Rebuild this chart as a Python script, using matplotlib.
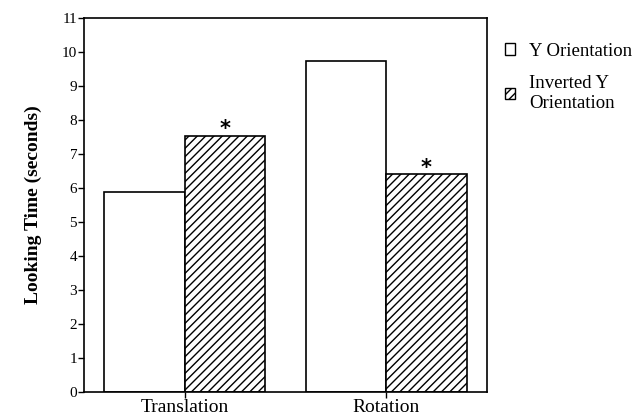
import matplotlib
matplotlib.use('Agg')
from matplotlib import pyplot as plt
from matplotlib.patches import Patch
import numpy as np

plt.rcParams['font.family'] = ['Liberation Serif', 'DejaVu Serif']
plt.rcParams['hatch.linewidth'] = 1.0

categories = ['Translation', 'Rotation']
y_orientation = [5.88, 9.75]
inverted_y = [7.54, 6.4]
significant = [True, True]   # asterisk above the inverted bars
series_labels = ['Y Orientation', 'Inverted Y\nOrientation']
y_ticks = list(range(0, 12))

figure = plt.figure(figsize=(6.37, 4.18), dpi=100)
axis = figure.add_axes([0.132, 0.063, 0.632, 0.893])

x = np.arange(len(categories))
width = 0.4
axis.bar(x - width / 2, y_orientation, width, facecolor='white', edgecolor='black', linewidth=1.2)
axis.bar(x + width / 2, inverted_y, width, facecolor='white', edgecolor='black', linewidth=1.2, hatch='////')

for (j, flag) in enumerate(significant):
    if flag:
        axis.text(x[j] + width / 2, inverted_y[j] - 0.1, '*', ha='center', va='bottom',
                  fontsize=15, fontweight='bold', family='DejaVu Sans')

axis.set_xlim(-0.5, 1.5)
axis.set_ylim(0, 11)
axis.set_yticks(y_ticks)
axis.set_yticklabels([str(t) for t in y_ticks], fontsize=11)
axis.set_xticks(x)
axis.set_xticklabels(categories, fontsize=14)
axis.tick_params(axis='y', length=4, width=1, pad=1)
axis.tick_params(axis='x', length=4, width=1, pad=1)
for spine in axis.spines.values():
    spine.set_linewidth(1.2)
axis.set_ylabel('Looking Time (seconds)', fontsize=14, fontweight='bold', labelpad=14)

handles = [Patch(facecolor='white', edgecolor='black', linewidth=1.0),
           Patch(facecolor='white', edgecolor='black', linewidth=1.0, hatch='////')]
figure.legend(handles, series_labels, loc='upper left', bbox_to_anchor=(0.792, 0.898),
              frameon=False, fontsize=13.5, handlelength=0.55, handleheight=0.55,
              handletextpad=0.75, labelspacing=0.82, borderaxespad=0, borderpad=0)

plt.savefig('out.png', dpi=100)
